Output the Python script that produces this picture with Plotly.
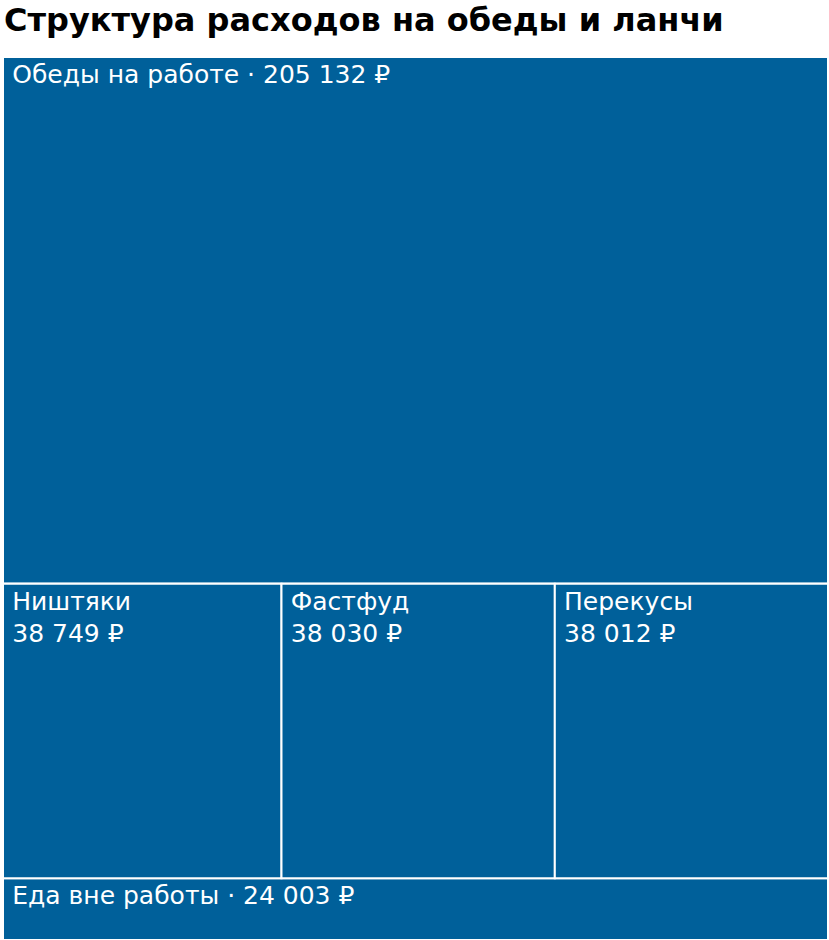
import plotly.graph_objects as go

title = "Структура расходов на обеды и ланчи"
ids = ["work", "mid", "nishtyaki", "fastfood", "snacks", "outside"]
labels = ["Обеды на работе", "", "Ништяки", "Фастфуд", "Перекусы", "Еда вне работы"]
parents = ["", "", "mid", "mid", "mid", ""]
values = [205132, 0, 38749, 38030, 38012, 24003]
single_line = [True, False, False, False, False, True]

IND = "\u2005"

def fmt(v):
    return f"{v:,}".replace(",", " ") + " ₽"

texts = []
for lab, v, s in zip(labels, values, single_line):
    if lab == "":
        texts.append("")
    elif s:
        texts.append(f"{lab} · {fmt(v)}")
    else:
        texts.append(f"{lab}<br>{fmt(v)}")
texts = [("" if t == "" else IND + t.replace("<br>", "<br>" + IND)) for t in texts]

W, H = 829, 940
FONT = "DejaVu Sans, sans-serif"
fig = go.Figure(go.Treemap(
    ids=ids, labels=labels, parents=parents, values=values,
    branchvalues="remainder",
    text=texts, textinfo="text",
    textposition="top left",
    textfont=dict(family=FONT, size=25, color="white"),
    marker=dict(colors=["#00609a"] * len(ids), line=dict(color="white", width=2),
                pad=dict(t=0, l=0, r=0, b=0)),
    tiling=dict(packing="dice-slice", pad=0),
    pathbar=dict(visible=False),
    sort=False,
    root=dict(color="white"),
    domain=dict(x=[3 / W, 828 / W], y=[0, 1 - 57 / H]),
    hoverinfo="skip",
))
fig.update_layout(
    width=W, height=H,
    margin=dict(l=0, r=0, t=0, b=0),
    paper_bgcolor="white",
    uniformtext=dict(minsize=25, mode="show"),
    title=dict(text=f"<b>{title}</b>", x=4 / W, xanchor="left", y=1 - 20 / H, yanchor="middle",
               font=dict(family=FONT, size=32, color="black")),
)
fig.write_html("out.html", config={"displayModeBar": False},
               post_script="document.body.style.margin='0';")
